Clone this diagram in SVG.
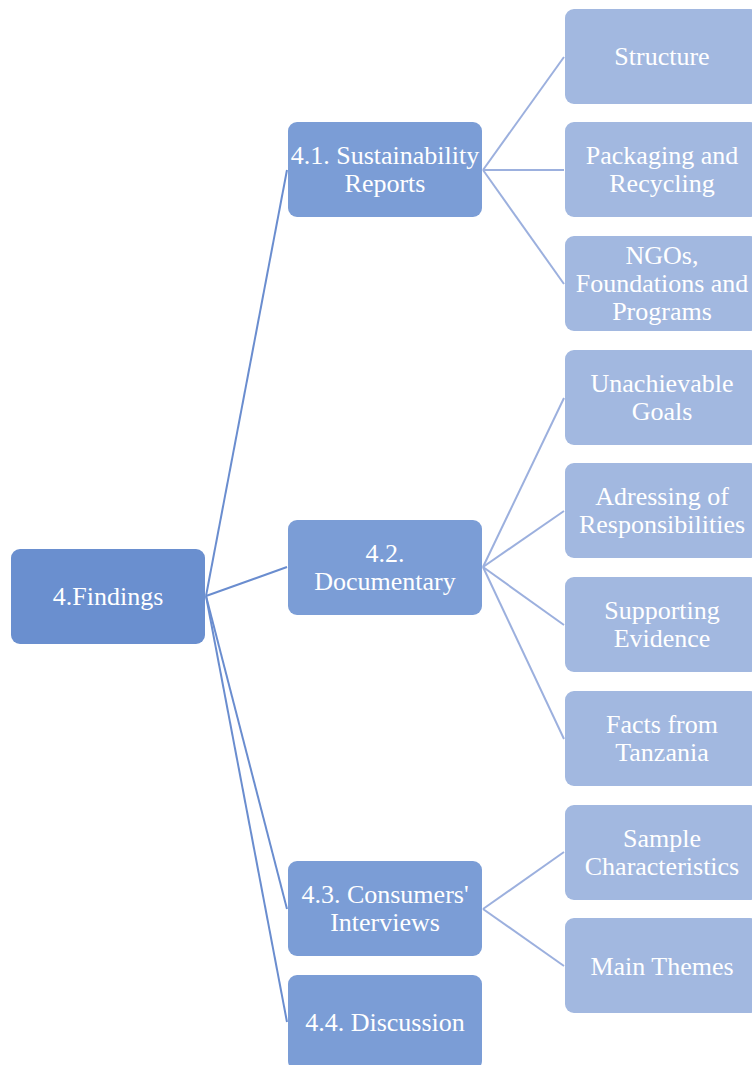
<svg xmlns="http://www.w3.org/2000/svg" width="752" height="1065" viewBox="0 0 752 1065">
  <style>
    .root { fill: #6a8fcf; }
    .l1 { fill: #7b9dd6; }
    .l2 { fill: #a2b8e0; }
    text { font-family: "Liberation Serif", "Times New Roman", serif; font-size: 26px; fill: #ffffff; text-anchor: middle; }
    .c1 { stroke: #6a8dcf; stroke-width: 2; fill: none; }
    .c2 { stroke: #9cb0de; stroke-width: 2; fill: none; }
  </style>

  <!-- connectors -->
  <g id="connectors">
    <line class="c1" x1="206" y1="596" x2="287" y2="170"/>
    <line class="c1" x1="206" y1="596" x2="287" y2="567"/>
    <line class="c1" x1="206" y1="596" x2="287" y2="909"/>
    <line class="c1" x1="206" y1="596" x2="287" y2="1022"/>

    <line class="c2" x1="483" y1="170" x2="564" y2="57"/>
    <line class="c2" x1="483" y1="170" x2="564" y2="170"/>
    <line class="c2" x1="483" y1="170" x2="564" y2="284"/>

    <line class="c2" x1="483" y1="567" x2="564" y2="398"/>
    <line class="c2" x1="483" y1="567" x2="564" y2="511"/>
    <line class="c2" x1="483" y1="567" x2="564" y2="625"/>
    <line class="c2" x1="483" y1="567" x2="564" y2="739"/>

    <line class="c2" x1="483" y1="909" x2="564" y2="852"/>
    <line class="c2" x1="483" y1="909" x2="564" y2="966"/>
  </g>

  <!-- root -->
  <g id="findings">
    <rect class="root" x="11" y="549" width="194" height="95" rx="9"/>
    <text x="108" y="605">4.Findings</text>
  </g>

  <!-- level 1 -->
  <g id="sustainability-reports">
    <rect class="l1" x="288" y="122" width="194" height="95" rx="9"/>
    <text x="385" y="164">4.1. Sustainability</text>
    <text x="385" y="192">Reports</text>
  </g>
  <g id="documentary">
    <rect class="l1" x="288" y="520" width="194" height="95" rx="9"/>
    <text x="385" y="562">4.2.</text>
    <text x="385" y="590">Documentary</text>
  </g>
  <g id="consumers-interviews">
    <rect class="l1" x="288" y="861" width="194" height="95" rx="9"/>
    <text x="385" y="903">4.3. Consumers'</text>
    <text x="385" y="931">Interviews</text>
  </g>
  <g id="discussion">
    <rect class="l1" x="288" y="975" width="194" height="95" rx="9"/>
    <text x="385" y="1031">4.4. Discussion</text>
  </g>

  <!-- level 2 -->
  <g id="structure">
    <rect class="l2" x="565" y="9" width="194" height="95" rx="9"/>
    <text x="662" y="65">Structure</text>
  </g>
  <g id="packaging-recycling">
    <rect class="l2" x="565" y="122" width="194" height="95" rx="9"/>
    <text x="662" y="164">Packaging and</text>
    <text x="662" y="192">Recycling</text>
  </g>
  <g id="ngos-foundations-programs">
    <rect class="l2" x="565" y="236" width="194" height="95" rx="9"/>
    <text x="662" y="264">NGOs,</text>
    <text x="662" y="292">Foundations and</text>
    <text x="662" y="320">Programs</text>
  </g>
  <g id="unachievable-goals">
    <rect class="l2" x="565" y="350" width="194" height="95" rx="9"/>
    <text x="662" y="392">Unachievable</text>
    <text x="662" y="420">Goals</text>
  </g>
  <g id="adressing-responsibilities">
    <rect class="l2" x="565" y="463" width="194" height="95" rx="9"/>
    <text x="662" y="505">Adressing of</text>
    <text x="662" y="533">Responsibilities</text>
  </g>
  <g id="supporting-evidence">
    <rect class="l2" x="565" y="577" width="194" height="95" rx="9"/>
    <text x="662" y="619">Supporting</text>
    <text x="662" y="647">Evidence</text>
  </g>
  <g id="facts-tanzania">
    <rect class="l2" x="565" y="691" width="194" height="95" rx="9"/>
    <text x="662" y="733">Facts from</text>
    <text x="662" y="761">Tanzania</text>
  </g>
  <g id="sample-characteristics">
    <rect class="l2" x="565" y="805" width="194" height="95" rx="9"/>
    <text x="662" y="847">Sample</text>
    <text x="662" y="875">Characteristics</text>
  </g>
  <g id="main-themes">
    <rect class="l2" x="565" y="918" width="194" height="95" rx="9"/>
    <text x="662" y="975">Main Themes</text>
  </g>
</svg>
